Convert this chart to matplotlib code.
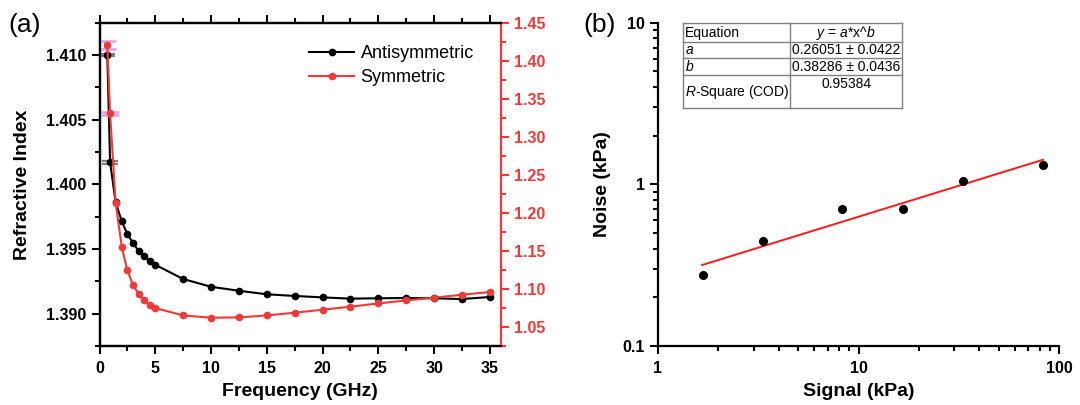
import matplotlib
matplotlib.use('Agg')
import matplotlib.pyplot as plt
from matplotlib.ticker import MultipleLocator, FormatStrFormatter, LogLocator, NullFormatter
from matplotlib.lines import Line2D

plt.rcParams['font.family'] = ['Liberation Sans', 'DejaVu Sans']
plt.rcParams['font.weight'] = 'bold'
plt.rcParams['axes.labelweight'] = 'bold'
plt.rcParams['mathtext.fontset'] = 'custom'
plt.rcParams['mathtext.it'] = 'Liberation Sans:style=italic:weight=normal'
plt.rcParams['mathtext.rm'] = 'Liberation Sans:weight=normal'

## DATOS panel (a)
freq = [0.7, 0.95, 1.45, 2, 2.5, 3, 3.5, 4, 4.5, 5, 7.5, 10, 12.5, 15,
        17.5, 20, 22.5, 25, 27.5, 30, 32.5, 35]
n_anti = [1.4100, 1.4017, 1.3986, 1.39714, 1.39615, 1.39547, 1.39486, 1.39447,
          1.39409, 1.39378, 1.39268, 1.39208, 1.39177, 1.39150, 1.39137, 1.39126,
          1.39116, 1.39119, 1.39121, 1.39119, 1.39113, 1.39129]
n_sym = [1.4209, 1.3310, 1.2128, 1.1550, 1.1243, 1.1056, 1.0937, 1.0849,
         1.0789, 1.0749, 1.0652, 1.0622, 1.0626, 1.0652, 1.0688, 1.0727,
         1.0767, 1.0810, 1.0849, 1.0885, 1.0924, 1.0960]
err_freq = [0.7, 0.95]                  # puntos con barra de error
err_anti = [0.0001, 0.00012]
err_sym = [0.0054, 0.0021]

## DATOS panel (b)
signal = [1.67, 3.32, 8.28, 16.6, 33.2, 82.8]
noise = [0.275, 0.444, 0.707, 0.705, 1.048, 1.317]
fit_x = [1.66, 83]                      # extremos de la recta de ajuste
fit_y = [0.317, 1.42]
tabla = [("Equation", "$y$ = $a$*x^$b$"),
         ("$a$", "0.26051 \u00b1 0.0422"),
         ("$b$", "0.38286 \u00b1 0.0436"),
         ("$R$-Square (COD)", "0.95384")]

RED = '#f03a3a'
W, H = 1080, 405

fig = plt.figure(figsize=(10.8, 4.05), dpi=100)

def fx(p):
    return p / W

def fy(p):
    return 1 - p / H

## PANEL (a)
ax = fig.add_axes([fx(99.5), fy(346), fx(501 - 99.5), (346 - 22.7) / H])
axr = ax.twinx()

ax.errorbar(err_freq, n_anti[:2], yerr=err_anti, fmt='none', ecolor='#7f7f7f',
            elinewidth=1.2, capsize=6, capthick=1.6, zorder=1)
l1, = ax.plot(freq, n_anti, '-o', color='black', lw=1.5, ms=4.5, zorder=2,
              label='Antisymmetric')
axr.errorbar(err_freq, n_sym[:2], yerr=err_sym, fmt='none', ecolor='#e79be9',
             elinewidth=1.2, capsize=6.5, capthick=1.8, zorder=1)
l2, = axr.plot(freq, n_sym, '-o', color=RED, lw=1.5, ms=4.5, zorder=2,
               label='Symmetric')

ax.set_xlim(0, 36)
ax.set_ylim(1.3875, 1.4125)
axr.set_ylim(1.025, 1.45)

ax.xaxis.set_major_locator(MultipleLocator(5))
ax.xaxis.set_minor_locator(MultipleLocator(2.5))
ax.yaxis.set_major_locator(MultipleLocator(0.005))
ax.yaxis.set_minor_locator(MultipleLocator(0.0025))
ax.yaxis.set_major_formatter(FormatStrFormatter('%.3f'))
axr.yaxis.set_major_locator(MultipleLocator(0.05))
axr.yaxis.set_minor_locator(MultipleLocator(0.025))
axr.yaxis.set_major_formatter(FormatStrFormatter('%.2f'))

ax.tick_params(which='both', direction='out', top=True, right=False,
               width=1.5, labelsize=11.5)
ax.tick_params(which='major', length=6)
ax.tick_params(which='minor', length=3.5)
ax.tick_params(axis='x', pad=5)
axr.tick_params(which='both', direction='out', width=1.5, color=RED,
                labelcolor=RED, labelsize=11.5)
axr.tick_params(which='major', length=6)
axr.tick_params(which='minor', length=3.5)
for s in ax.spines.values():
    s.set_linewidth(1.6)
for s in axr.spines.values():
    s.set_linewidth(1.6)
ax.spines['right'].set_visible(False)
axr.spines['right'].set_color(RED)

ax.set_xlabel('Frequency (GHz)', fontsize=14, labelpad=5)
ax.set_ylabel('Refractive Index', fontsize=14, labelpad=11)

axr.legend(handles=[l1, l2], loc='upper left', frameon=False,
           bbox_to_anchor=(fx(302), fy(38)), bbox_transform=fig.transFigure,
           borderaxespad=0, handlelength=2.5, handletextpad=0.35,
           labelspacing=0.38, prop={'size': 13, 'weight': 'normal'})

fig.text(fx(8), fy(25), '(a)', fontsize=19, fontweight='normal', va='center')

## PANEL (b)
ax2 = fig.add_axes([fx(658), fy(346), fx(1059.3 - 658), (346 - 22.7) / H])
ax2.plot(fit_x, fit_y, color='#ff1a1a', lw=1.4, zorder=2)
ax2.plot(signal, noise, 'o', color='black', ms=5.5, zorder=3)
ax2.set_xscale('log')
ax2.set_yscale('log')
ax2.set_xlim(1, 100)
ax2.set_ylim(0.1, 10)
ax2.set_xticks([1, 10, 100], labels=['1', '10', '100'])
ax2.set_yticks([0.1, 1, 10], labels=['0.1', '1', '10'])
ax2.xaxis.set_minor_locator(LogLocator(base=10, subs=range(2, 10)))
ax2.yaxis.set_minor_locator(LogLocator(base=10, subs=range(2, 10)))
ax2.xaxis.set_minor_formatter(NullFormatter())
ax2.yaxis.set_minor_formatter(NullFormatter())
ax2.tick_params(which='both', direction='out', width=1.5, labelsize=11.5)
ax2.tick_params(which='major', length=6)
ax2.tick_params(which='minor', length=3.5)
ax2.tick_params(axis='x', pad=5)
for s in ax2.spines.values():
    s.set_linewidth(1.6)
ax2.spines['top'].set_visible(False)
ax2.spines['right'].set_visible(False)
ax2.set_xlabel('Signal (kPa)', fontsize=14, labelpad=5)
ax2.set_ylabel('Noise (kPa)', fontsize=14, labelpad=8)

fig.text(fx(583), fy(25), '(b)', fontsize=19, fontweight='normal', va='center')

## Tabla del ajuste
xs = [683.3, 790, 902.3]
ys = [23.3, 41.7, 58.3, 75.3, 108.3]
gris = '#808080'
for yy in ys:
    fig.add_artist(Line2D([fx(xs[0]), fx(xs[2])], [fy(yy), fy(yy)], color=gris, lw=1))
for xx in xs:
    fig.add_artist(Line2D([fx(xx), fx(xx)], [fy(ys[0]), fy(ys[-1])], color=gris, lw=1))
for k, (izq, der) in enumerate(tabla):
    yc = (ys[k] + ys[k + 1]) / 2
    fig.text(fx(xs[0] + 2), fy(yc), izq, fontsize=10, fontweight='normal', va='center')
    if k < 3:
        fig.text(fx((xs[1] + xs[2]) / 2), fy(yc), der, fontsize=10,
                 fontweight='normal', va='center', ha='center')
    else:
        fig.text(fx((xs[1] + xs[2]) / 2), fy(ys[k] + 9), der, fontsize=10,
                 fontweight='normal', va='center', ha='center')

fig.savefig('out.png', dpi=100)
